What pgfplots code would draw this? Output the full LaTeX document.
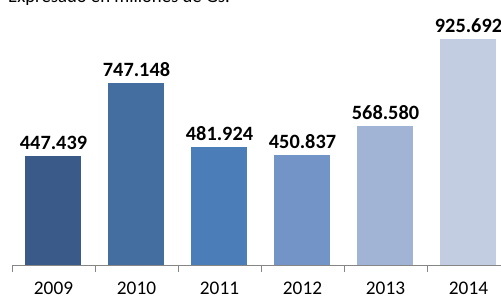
\documentclass[border=0pt]{standalone}
\usepackage{pgfplots}
\pgfplotsset{compat=1.18}
\usepackage{fontspec}
\setmainfont{Carlito}
\definecolor{c1}{HTML}{3A5A89}
\definecolor{c2}{HTML}{446EA0}
\definecolor{c3}{HTML}{4B7DB8}
\definecolor{c4}{HTML}{7394C7}
\definecolor{c5}{HTML}{A2B4D6}
\definecolor{c6}{HTML}{C2CDE1}
\definecolor{axgray}{HTML}{868686}
\begin{document}
\begin{tikzpicture}
\path[use as bounding box] (0,0) rectangle (501pt,298pt);
\node[anchor=base west, inner sep=0, font=\fontsize{18.7}{22}\selectfont] at (8pt,295.5pt) {Expresado en millones de Gs.};
\begin{axis}[
  at={(12pt,33pt)}, anchor=south west,
  scale only axis, width=498pt, height=244pt,
  xmin=-0.5, xmax=5.5, ymin=0, ymax=1000,
  clip=false,
  axis x line*=bottom, axis y line=none,
  x axis line style={draw=axgray, line width=0.8pt},
  xtick={0,1,2,3,4,5},
  xticklabels={2009,2010,2011,2012,2013,2014},
  major tick length=0pt,
  minor xtick={-0.5,0.5,1.5,2.5,3.5,4.5,5.5},
  minor tick length=7pt,
  tick align=outside,
  minor tick style={draw=axgray, line width=0.8pt},
  xticklabel style={anchor=base, yshift=-29pt, font=\fontsize{19.3}{22}\selectfont},
  ybar, bar width=56pt,
  every axis plot/.append style={bar shift=0pt, draw=none},
  nodes near coords={\pgfmathprintnumber[fixed,fixed zerofill,precision=3,assume math mode=true]{\pgfplotspointmeta}},
  every node near coord/.append style={font=\bfseries\fontsize{20.3}{24}\selectfont, text=black, yshift=3pt},
]
\addplot[fill=c1] coordinates {(0,447.439)};
\addplot[fill=c2] coordinates {(1,747.148)};
\addplot[fill=c3] coordinates {(2,481.924)};
\addplot[fill=c4] coordinates {(3,450.837)};
\addplot[fill=c5] coordinates {(4,568.580)};
\addplot[fill=c6] coordinates {(5,925.692)};
\end{axis}
\end{tikzpicture}
\end{document}
